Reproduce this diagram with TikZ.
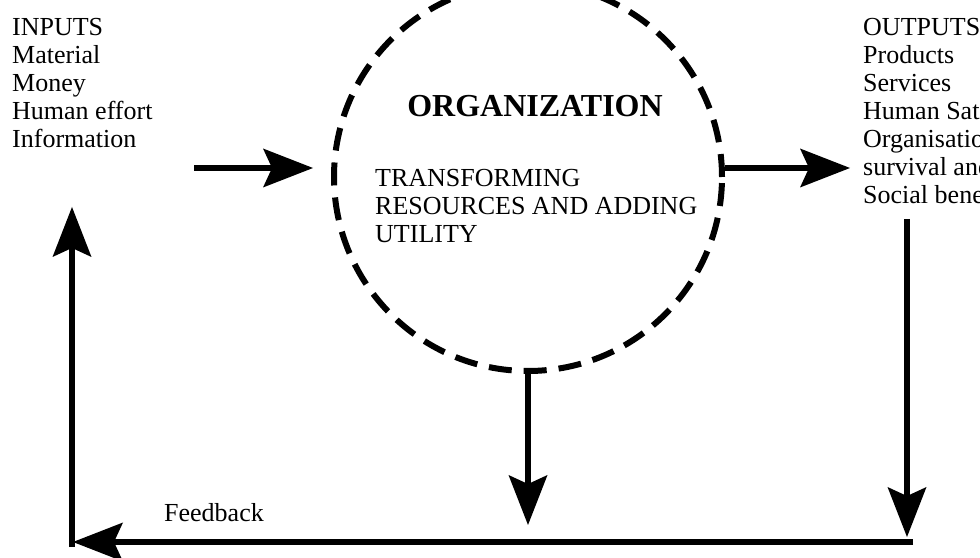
\documentclass[tikz,border=0pt]{standalone}
\usepackage{fontspec}
\setmainfont{Liberation Serif}
\usetikzlibrary{arrows.meta, positioning}
\tikzstyle{arrow} = [line width=6.5pt, -{Stealth[length=50pt, width=39pt, inset=9pt, line width=0pt]}]
\tikzstyle{textblock} = [inner sep=0pt, align=left, font=\fontsize{26}{28}\selectfont]

\begin{document}
\begin{tikzpicture}[x=1pt, y=1pt]
    \useasboundingbox (0,0) rectangle (980,557);

    \node[textblock, anchor=north west] (inputs) at (12,539) {INPUTS\\Material\\Money\\Human effort\\Information};
    \node[textblock, anchor=north west] (outputs) at (863,539) {OUTPUTS\\Products\\Services\\Human Satisfaction\\Organisational\\survival and growth\\Social benefits};

    \node[draw, circle, line width=6pt, dash pattern=on 23pt off 12pt, minimum size=388pt, inner sep=0pt] (org) at (528,380) {};
    \node[inner sep=0pt, anchor=base, font=\bfseries\fontsize{32}{34}\selectfont] (title) at (535,440) {ORGANIZATION};
    \node[textblock, anchor=north west] (process) at (375,388) {TRANSFORMING\\RESOURCES AND ADDING\\UTILITY};

    \node[textblock, anchor=base west] (feedback) at (164,35) {Feedback};

    \coordinate (in start) at (194,389);
    \coordinate (in end) at (313,389);
    \coordinate (out start) at (725,389);
    \coordinate (out end) at (850,389);
    \coordinate (mid end) at (528,32);
    \coordinate (right top) at (907,338);
    \coordinate (right end) at (907,20);
    \coordinate (corner) at (913,15);
    \coordinate (left end) at (73,15);
    \coordinate (left start) at (72,10);
    \coordinate (left top) at (72,350);

    \draw[arrow] (in start) -- (in end);
    \draw[arrow] (out start) -- (out end);
    \draw[arrow] (org.south) -- (mid end);
    \draw[arrow] (right top) -- (right end);
    \draw[arrow] (corner) -- (left end);
    \draw[arrow] (left start) -- (left top);
\end{tikzpicture}
\end{document}
